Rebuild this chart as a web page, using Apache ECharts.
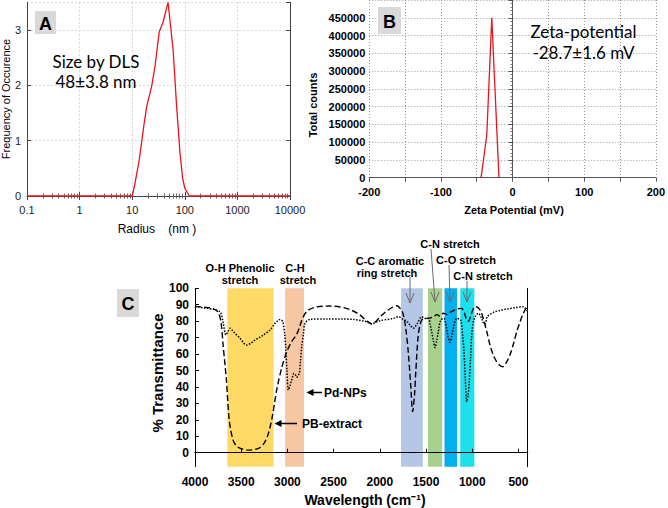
<!DOCTYPE html>
<html><head><meta charset="utf-8">
<script src="https://cdn.jsdelivr.net/npm/echarts@6/dist/echarts.min.js"></script>
<style>html,body{margin:0;padding:0;background:#fff}#c{width:668px;height:508px}</style>
</head><body><div id="c"></div>
<script>
// ---- Panel A: DLS size distribution ----
const dlsRadius = [0.1, 10, 11.3, 13.6, 16.7, 18.8, 23.4, 27.1, 32.7, 38.9, 48, 60, 70, 81, 91, 100, 122, 10000];
const dlsFreq   = [0, 0, 0.23, 0.65, 1.28, 1.61, 1.98, 2.34, 2.97, 3.15, 3.5, 2.64, 1.61, 0.78, 0.32, 0.14, 0, 0];
// ---- Panel B: zeta potential ----
const zetaMv     = [-44, -36, -29, -19];
const zetaCounts = [0, 120000, 450000, 0];
// ---- Panel C: FTIR ----
const pbWn = [4000,3900,3800,3750,3720,3695,3660,3630,3590,3550,3500,3420,3350,3300,3250,3210,3170,3140,3110,3060,3010,2960,2900,2870,2845,2790,2700,2540,2400,2300,2215,2140,2088,2040,1998,1930,1860,1815,1770,1746,1720,1692,1666,1645,1625,1610,1584,1547,1493,1450,1421,1380,1350,1313,1270,1241,1200,1168,1114,1085,1060,1040,1024,1000,970,935,900,881,840,808,770,736,700,670,630,592,550,519,480,448,412,400];
const pbT  = [89,88.5,87.5,85.5,80,65,44,20,8,4,2.5,1.6,2,3,6,11,20,30,40,52,61,67,72,76,80.5,86,88.5,89.2,88.3,86.5,83.8,80,78.5,80,82.7,86,88.5,89.4,87,84,76,61,41,25,35,50,71.5,80.7,81.7,82,82.7,84,83,84.8,84,85.4,86.5,87.4,87.8,85,80.7,80,82,86,88.8,88.2,85,81.7,73,65.5,59,55.4,53,52.3,55,59.4,67,73.6,80,84.8,88.2,88.5];
const pdWn = [4000,3900,3800,3730,3710,3694,3665,3640,3621,3590,3567,3513,3470,3441,3400,3351,3300,3261,3189,3134,3100,3080,3051,3030,3019,3005,2990,2970,2954,2929,2910,2900,2885,2871,2858,2845,2825,2810,2756,2575,2400,2287,2180,2142,2088,2040,1998,1854,1800,1746,1728,1700,1674,1638,1594,1547,1511,1475,1455,1439,1420,1403,1385,1367,1341,1306,1290,1277,1260,1241,1222,1205,1168,1125,1105,1089,1075,1060,1045,1032,1018,1006,990,970,935,898,880,862,850,837,772,700,627,530,448,412,400];
const pdT  = [88.8,88,87.2,85.8,83,78.7,71.6,74,75.7,74,72.6,69.6,66.5,65.5,66.5,68.5,70.2,71.6,74.6,78.7,80.5,81.1,79.7,72,64.5,50,38.1,41,44.2,48.3,47,45.9,47,48.3,56,64.5,73,78.7,81.1,81.4,81.3,81.1,80.2,79.7,78.3,79.5,80.3,81.7,82.7,81.1,80.7,79.5,77.7,75.7,78.7,82.7,81.7,81.7,78,73.6,68,63.9,68,73.6,80.7,81.7,79,75.7,70,67.1,71,75.7,81.7,80.7,72,61.4,45,31,35,43.2,58,71.6,79,82.7,84.8,81.7,79,78.1,80,82.7,85.4,86.5,87.4,88.3,88.8,86.8,86];
const bandFrom = [3650, 3025, 1770, 1480, 1300, 1130];
const bandTo   = [3150, 2820, 1535, 1325, 1165, 977];
const bandColors = ['#FFD966', '#F7C6A3', '#B4C7E7', '#A9D18E', '#00B0F0', '#1CE0EC'];
const irXTicks = [4000, 3500, 3000, 2500, 2000, 1500, 1000, 500];
const irYTicks = [0, 10, 20, 30, 40, 50, 60, 70, 80, 90, 100];

const zip = (a, b) => a.map((v, i) => [v, b[i]]);
const chart = echarts.init(document.getElementById('c'), null, {renderer: 'svg'});
const AR = "'Liberation Sans', Arial, Helvetica, sans-serif";
const LT = "Lato, 'Liberation Sans', sans-serif";
const bold11 = {fontFamily: AR, fontWeight: 'bold', fontSize: 11, color: '#000'};
const bold12 = {fontFamily: AR, fontWeight: 'bold', fontSize: 12, color: '#000'};

function txt(text, x, y, font, opts, align) {
  return Object.assign({type: 'text', x: x, y: y, z: 100,
    style: {text: text, x: 0, y: 0, font: font, fill: '#000', align: align || 'center', verticalAlign: 'middle'}}, opts || {});
}
function vArrow(x1, y1, x2, y2) {
  return [
    {type: 'line', z: 100, shape: {x1: x1, y1: y1, x2: x2, y2: y2}, style: {stroke: '#6b6b6b', lineWidth: 1}},
    {type: 'polyline', z: 100, shape: {points: [[x2 - 4, y2 - 10], [x2, y2], [x2 + 4, y2 - 10]]}, style: {stroke: '#6b6b6b', lineWidth: 1, fill: null}}
  ];
}
function lArrow(x1, x2, y) {
  return [
    {type: 'line', z: 100, shape: {x1: x1, y1: y, x2: x2 + 5, y2: y}, style: {stroke: '#000', lineWidth: 1.5}},
    {type: 'polygon', z: 100, shape: {points: [[x2, y], [x2 + 7, y - 3.5], [x2 + 7, y + 3.5]]}, style: {fill: '#000'}}
  ];
}
function letterBox(l, x, y, w, h) {
  return [
    {type: 'rect', z: 90, shape: {x: x, y: y, width: w, height: h}, style: {fill: '#d9d9d9'}},
    txt(l, x + w / 2, y + h / 2 + 1, 'bold 18px ' + AR)
  ];
}

const graphics = [].concat(
  letterBox('A', 35, 11, 21, 23),
  letterBox('B', 378, 7, 23, 27),
  letterBox('C', 117, 289, 22, 28),
  [
    txt('Size by DLS', 96, 61, '17px ' + LT),
    txt('48±3.8 nm', 96, 81.5, '17px ' + LT),
    txt('Zeta-potential', 583.5, 31, '17px ' + LT),
    txt('-28.7±1.6 mV', 583.5, 52, '17px ' + LT),
    txt('Frequency of Occurence', 6, 99, '11px ' + AR, {rotation: Math.PI / 2}),
    txt('Radius    (nm )', 157, 229, '12px ' + AR),
    txt('Total counts', 313, 105, 'bold 11px ' + AR, {rotation: Math.PI / 2}),
    txt('Zeta Potential (mV)', 514, 210, 'bold 11px ' + AR),
    txt('% Transmittance', 157, 373, 'bold 15px ' + AR, {rotation: Math.PI / 2}),
    txt('Wavelength (cm⁻¹)', 365, 500, 'bold 14px ' + AR),
    txt('O-H Phenolic', 240, 268, 'bold 11px ' + AR),
    txt('stretch', 240, 280, 'bold 11px ' + AR),
    txt('C-H', 295, 268, 'bold 11px ' + AR),
    txt('stretch', 298, 280, 'bold 11px ' + AR),
    txt('C-C aromatic', 390, 260.5, 'bold 11px ' + AR),
    txt('ring stretch', 387, 272.5, 'bold 11px ' + AR),
    txt('C-N stretch', 450, 244, 'bold 11px ' + AR),
    txt('C-O stretch', 466, 260, 'bold 11px ' + AR),
    txt('C-N stretch', 483, 275.5, 'bold 11px ' + AR),
    txt('Pd-NPs', 324, 392.5, 'bold 12px ' + AR, null, 'left'),
    txt('PB-extract', 302, 423.5, 'bold 12px ' + AR, null, 'left')
  ],
  vArrow(410, 277, 410, 303),
  vArrow(431, 249, 435, 302),
  vArrow(449, 265, 450, 302),
  vArrow(467, 281, 467, 302),
  lArrow(322, 306.5, 392.5),
  lArrow(297, 274.5, 423.5)
);

const frameA = {lineStyle: {color: '#444', width: 1}};
const option = {
  animation: false,
  backgroundColor: '#fff',
  textStyle: {fontFamily: AR},
  grid: [
    {left: 27, top: 2.3, width: 263, height: 193.7},
    {left: 369.3, top: -2.3, width: 290, height: 180},
    {left: 195, top: 288.3, width: 332.7, height: 178.4}
  ],
  xAxis: [
    {gridIndex: 0, type: 'log', logBase: 10, min: 0.1, max: 10000,
     axisLine: frameA, axisTick: {inside: true, length: 4, lineStyle: {color: '#444'}},
     minorTick: {show: true, splitNumber: 9, length: 2.5, lineStyle: {color: '#666'}},
     splitLine: {show: true, lineStyle: {color: '#d6d6d6', type: [2, 2]}},
     axisLabel: {formatter: v => String(v), fontFamily: AR, fontSize: 11, color: '#222', margin: 8}},
    {gridIndex: 0, type: 'log', logBase: 10, min: 0.1, max: 10000, position: 'top',
     axisLine: frameA, axisTick: {inside: true, length: 4, lineStyle: {color: '#444'}},
     minorTick: {show: true, splitNumber: 9, length: 2.5, lineStyle: {color: '#666'}},
     axisLabel: {show: false}, splitLine: {show: false}},
    {gridIndex: 1, type: 'value', min: -200, max: 200, interval: 50,
     axisLine: {lineStyle: {color: '#555'}}, axisTick: {length: 4, lineStyle: {color: '#555'}},
     splitLine: {show: true, lineStyle: {color: '#999', type: [1, 2]}},
     axisLabel: Object.assign({formatter: v => (v % 100 === 0 ? String(v) : ''), margin: 9}, bold11)},
    {gridIndex: 2, type: 'value', inverse: true, min: 400, max: 4000, z: 5,
     axisLine: {lineStyle: {color: '#000'}}, axisTick: {inside: true, length: 4, customValues: irXTicks, lineStyle: {color: '#000'}},
     splitLine: {show: false},
     axisLabel: Object.assign({customValues: irXTicks, formatter: v => String(v), margin: 9}, bold12)},
    {gridIndex: 2, type: 'value', inverse: true, min: 400, max: 4000, position: 'top', z: 5,
     axisLine: {lineStyle: {color: '#000'}}, axisTick: {show: false}, axisLabel: {show: false}, splitLine: {show: false}}
  ],
  yAxis: [
    {gridIndex: 0, type: 'value', min: 0, max: 3.5, interval: 1,
     axisLine: frameA, axisTick: {inside: true, length: 4, lineStyle: {color: '#444'}},
     splitLine: {show: true, lineStyle: {color: '#d6d6d6', type: [2, 2]}},
     axisLabel: {showMaxLabel: false, fontFamily: AR, fontSize: 11, color: '#222', margin: 6}},
    {gridIndex: 0, type: 'value', min: 0, max: 3.5, interval: 1, position: 'right',
     axisLine: frameA, axisTick: {inside: true, length: 4, lineStyle: {color: '#444'}},
     axisLabel: {show: false}, splitLine: {show: false}},
    {gridIndex: 1, type: 'value', min: 0, max: 500000, interval: 50000,
     axisLine: {show: true, lineStyle: {color: '#555'}}, axisTick: {show: true, length: 4, lineStyle: {color: '#555'}},
     minorTick: {show: true, splitNumber: 5, length: 2, lineStyle: {color: '#777'}},
     splitLine: {show: true, lineStyle: {color: '#999', type: [1, 2]}},
     axisLabel: Object.assign({formatter: v => String(v), showMaxLabel: false, margin: 4}, bold11)},
    {gridIndex: 2, type: 'value', min: -8.5, max: 100, z: 5,
     axisLine: {show: true, lineStyle: {color: '#000'}}, axisTick: {show: true, inside: true, length: 4, customValues: irYTicks, lineStyle: {color: '#000'}},
     splitLine: {show: false},
     axisLabel: Object.assign({customValues: irYTicks, margin: 6}, bold12)},
    {gridIndex: 2, type: 'value', min: -8.5, max: 100, position: 'right', z: 5,
     axisLine: {show: true, lineStyle: {color: '#000'}}, axisTick: {show: false}, axisLabel: {show: false}, splitLine: {show: false}}
  ],
  series: [
    {type: 'line', xAxisIndex: 0, yAxisIndex: 0, data: zip(dlsRadius, dlsFreq), symbol: 'none',
     lineStyle: {color: '#e8141c', width: 1.3}, z: 3},
    {type: 'line', xAxisIndex: 2, yAxisIndex: 2, data: zip(zetaMv, zetaCounts), symbol: 'none',
     lineStyle: {color: '#e8141c', width: 1.3}, z: 3},
    {type: 'line', name: 'PB-extract', xAxisIndex: 3, yAxisIndex: 3, data: zip(pbWn, pbT), symbol: 'none', smooth: 0.3,
     lineStyle: {color: '#000', width: 1.4, type: [6, 3]}, z: 3,
     markArea: {silent: true, z: 1, data: bandFrom.map((f, i) => [
       {xAxis: f, itemStyle: {color: bandColors[i], opacity: 1}}, {xAxis: bandTo[i]}])}},
    {type: 'line', name: 'Pd-NPs', xAxisIndex: 3, yAxisIndex: 3, data: zip(pdWn, pdT), symbol: 'none', smooth: 0.3,
     lineStyle: {color: '#000', width: 1.5, type: [1.5, 1.5]}, z: 3}
  ],
  graphic: graphics
};
chart.setOption(option);
</script>
</body></html>
